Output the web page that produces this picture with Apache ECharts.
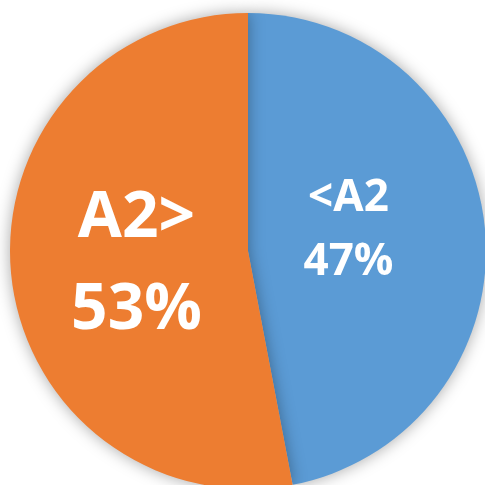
<!DOCTYPE html>
<html>
<head>
<meta charset="utf-8">
<script src="https://cdn.jsdelivr.net/npm/echarts@6/dist/echarts.min.js"></script>
<style>
  html, body { margin: 0; padding: 0; background: #fff; }
  #chart { width: 485px; height: 485px; }
</style>
</head>
<body>
<div id="chart"></div>
<script>
// 饼图数据
const names = ['<A2', 'A2>'];
const values = [47, 53];
const colors = ['#5B9BD5', '#ED7D31'];

const chart = echarts.init(document.getElementById('chart'));

const data = names.map((n, i) => ({
    name: n,
    value: values[i],
    itemStyle: { color: colors[i] },
    label: i === 0
        ? { fontSize: 44, lineHeight: 64, offset: [-21, -9] }
        : { fontSize: 64, lineHeight: 92, offset: [10, 2] }
}));

chart.setOption({
    animation: false,
    series: [{
        type: 'pie',
        center: [248, 251],
        radius: 238,
        startAngle: 90,
        clockwise: true,
        data: data,
        itemStyle: {
            shadowBlur: 16,
            shadowColor: 'rgba(0,0,0,0.35)'
        },
        label: {
            position: 'inside',
            formatter: '{b}\n{d}%',
            color: '#fff',
            fontWeight: 'bold',
            fontFamily: 'Open Sans'
        },
        labelLine: { show: false },
        emphasis: { disabled: true }
    }]
});
</script>
</body>
</html>
